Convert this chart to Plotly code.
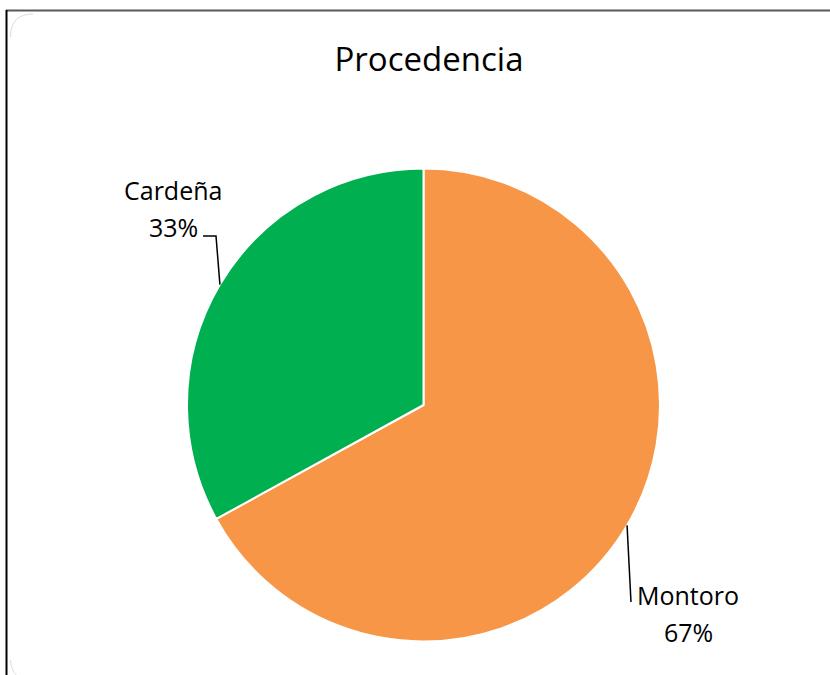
import math
import plotly.graph_objects as go

# ---- data ----
categories = ["Montoro", "Cardeña"]
values = [67, 33]
colors = ["#F79646", "#00B050"]
title_text = "Procedencia"

W, H = 830, 675
# pie geometry (pixels)
cx, cy, r = 423.5, 405.0, 236.5
FONT = "Open Sans"

def px(x):
    return x / W

def py(y):
    return 1 - y / H

fig = go.Figure(go.Pie(
    labels=categories,
    values=values,
    sort=False,
    direction="clockwise",
    rotation=0,
    marker=dict(colors=colors, line=dict(color="white", width=2)),
    textinfo="none",
    hoverinfo="label+percent",
    showlegend=False,
    domain=dict(x=[px(cx - r), px(cx + r)], y=[py(cy + r), py(cy - r)]),
))

total = sum(values)
shapes = []
annotations = []
# label placement (pixels): name line center, percent line center, leader path
label_pos = {
    "Cardeña": dict(tx=173, ny=190, py_=227, path_end=(203, 236), bend=(216, 236)),
    "Montoro": dict(tx=688, ny=595, py_=632, path_end=(631, 602), bend=None),
}
cum = 0
for cat, v in zip(categories, values):
    mid = (cum + v / 2) / total * 2 * math.pi
    cum += v
    ax_ = cx + r * math.sin(mid)
    ay_ = cy - r * math.cos(mid)
    lp = label_pos[cat]
    pts = [(ax_, ay_)]
    if lp["bend"]:
        pts.append(lp["bend"])
    pts.append(lp["path_end"])
    path = "M " + " L ".join(f"{px(x)},{py(y)}" for x, y in pts)
    shapes.append(dict(type="path", xref="paper", yref="paper", path=path,
                       line=dict(color="black", width=1.5)))
    pct = round(v / total * 100)
    for txt, yy in ((cat, lp["ny"]), (f"{pct}%", lp["py_"])):
        annotations.append(dict(
            x=px(lp["tx"]), y=py(yy), xref="paper", yref="paper",
            text=txt, showarrow=False, xanchor="center", yanchor="middle",
            font=dict(family=FONT, size=25, color="black"),
        ))

# frame lines
shapes.append(dict(type="line", xref="paper", yref="paper", x0=px(6), x1=1, y0=py(10.5), y1=py(10.5),
                   line=dict(color="#595959", width=2)))
shapes.append(dict(type="line", xref="paper", yref="paper", x0=px(6.5), x1=px(6.5), y0=py(10), y1=0,
                   line=dict(color="black", width=2)))
# faint rounded corners
shapes.append(dict(type="path", xref="paper", yref="paper",
                   path=f"M {px(10.5)},{py(37)} Q {px(10.5)},{py(14)} {px(33)},{py(14)}",
                   line=dict(color="#dcdcdc", width=1)))
shapes.append(dict(type="path", xref="paper", yref="paper",
                   path=f"M {px(10.5)},{py(660)} Q {px(11)},{py(670)} {px(17)},{py(676)}",
                   line=dict(color="#dcdcdc", width=1)))

fig.update_layout(
    width=W, height=H,
    margin=dict(l=0, r=0, t=0, b=0),
    paper_bgcolor="white", plot_bgcolor="white",
    title=dict(text=title_text, x=px(429), xanchor="center", y=py(59), yanchor="middle",
               font=dict(family=FONT, size=33, color="black")),
    shapes=shapes,
    annotations=annotations,
)

fig.write_html("out.html", config={"displayModeBar": False},
               post_script="document.body.style.margin='0';")
